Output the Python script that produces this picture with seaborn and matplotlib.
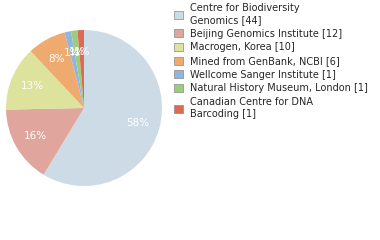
import math
import matplotlib
matplotlib.use("Agg")
import matplotlib.pyplot as plt
import seaborn as sns
from matplotlib.patches import Patch

sns.set_theme(style="white")
plt.rcParams['font.family'] = ['DejaVu Sans']

labels = ["Centre for Biodiversity\nGenomics [44]",
          "Beijing Genomics Institute [12]",
          "Macrogen, Korea [10]",
          "Mined from GenBank, NCBI [6]",
          "Wellcome Sanger Institute [1]",
          "Natural History Museum, London [1]",
          "Canadian Centre for DNA\nBarcoding [1]"]
counts = [44, 12, 10, 6, 1, 1, 1]
colors = ["#cddbe7", "#e0a59c", "#dde29c", "#efab6f", "#92b5dd", "#9ccc7c", "#dc6b56"]

fig = plt.figure(figsize=(3.8, 2.4), dpi=100)
ax = fig.add_axes([6/380, 54/240, 156/380, 156/240])
wedges, texts, autotexts = ax.pie(counts, colors=colors, startangle=90, counterclock=False,
                                  autopct=lambda p: f"{math.floor(p + 1e-9)}%", pctdistance=0.72,
                                  wedgeprops=dict(linewidth=0),
                                  textprops=dict(color="white", fontsize=7.5))
ax.set_xlim(-1, 1)
ax.set_ylim(-1, 1)
ax.set_aspect("equal")

handles = [Patch(facecolor=c, edgecolor="#888888", linewidth=0.5) for c in colors]
fig.legend(handles, labels, loc="upper left", bbox_to_anchor=(168/380, 1.0 + 2.5/240),
           frameon=False, fontsize=7, handlelength=0.9, handleheight=0.9,
           handletextpad=0.8, labelspacing=0.38, borderaxespad=0.2)
fig.savefig("out.png", dpi=100)
